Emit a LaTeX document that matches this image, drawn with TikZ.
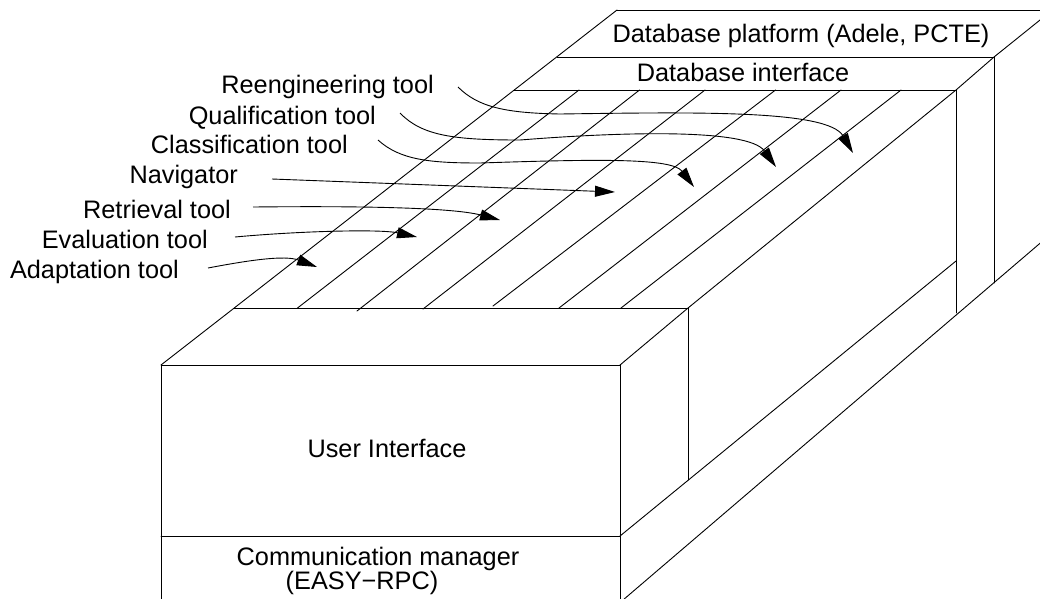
\documentclass[tikz,border=0pt]{standalone}
\usepackage{fontspec}
\setmainfont{Liberation Sans}
\usetikzlibrary{arrows.meta}
\begin{document}
\begin{tikzpicture}[x=1pt,y=-1pt,
  edge/.style={line width=0.9pt, line cap=round},
  lbl/.style={font=\fontsize{25.3}{30}\selectfont, inner sep=0pt},
  toolarrow/.style={line width=0.9pt, -{Triangle[length=20pt,width=11pt]}}]
\useasboundingbox (0,0) rectangle (1040,598);
\clip (0,0) rectangle (1040,598);

% corners
\coordinate (FL) at (161,365);
\coordinate (FR) at (620,365);
\coordinate (BL) at (234,308);
\coordinate (BR) at (688,308);
\coordinate (LT) at (617,10);
\coordinate (CMl) at (161,536);
\coordinate (CMr) at (620,536);
\coordinate (TBr) at (956,90);
\coordinate (DIr) at (994,57);

% front box (User Interface / Communication manager)
\draw[edge] (161,602) -- (FL) -- (FR) -- (620,602);
\draw[edge] (CMl) -- (CMr);
\draw[edge] (BL) -- (BR);
\draw[edge] (BR) -- (688,480);

% long top edges
\draw[edge] (FL) -- (LT);
\draw[edge] (FR) -- (BR) -- (TBr) -- (DIr) -- (1045,16);

% side edges
\draw[edge] (CMr) -- (TBr |- 0,261);
\draw[edge] (623,600) -- (1045,239);
\draw[edge] (TBr) -- (956,313);
\draw[edge] (DIr) -- (994,283);

% back edges of layers
\draw[edge] (514,90) -- (TBr);
\draw[edge] (557,57) -- (DIr);
\draw[edge] (LT) -- (1045,10);

% tool stripes
\draw[edge] (297.5,308) -- (579,90);
\draw[edge] (357,311) -- (639.5,90);
\draw[edge] (423,309) -- (705,90);
\draw[edge] (493,306) -- (775.5,90);
\draw[edge] (559,308) -- (841,90);
\draw[edge] (621,308) -- (901,90);

% texts
\node[lbl, anchor=base] (dbp) at (801,42) {Database platform (Adele, PCTE)};
\node[lbl, anchor=base] (dbi) at (743,81) {Database interface};
\node[lbl, anchor=base] (ui) at (387,457) {User Interface};
\node[lbl, anchor=base] (cm) at (378,565) {Communication manager};
\node[lbl, anchor=base] (rpc) at (362,589) {(EASY−RPC)};

\node[lbl, anchor=base east] (re) at (434,93) {Reengineering tool};
\node[lbl, anchor=base east] (qu) at (376,124) {Qualification tool};
\node[lbl, anchor=base east] (cl) at (348,153) {Classification tool};
\node[lbl, anchor=base east] (na) at (238,183) {Navigator};
\node[lbl, anchor=base east] (rt) at (231,218) {Retrieval tool};
\node[lbl, anchor=base east] (ev) at (208,248) {Evaluation tool};
\node[lbl, anchor=base east] (ad) at (179,278) {Adaptation tool};

% arrow ends
\coordinate (reS) at (458,87);  \coordinate (reE) at (853,153);
\coordinate (quS) at (400,113); \coordinate (quE) at (776,167);
\coordinate (clS) at (378,140); \coordinate (clE) at (694,187);
\coordinate (naS) at (272,179); \coordinate (naE) at (615,192);
\coordinate (rtS) at (253,207); \coordinate (rtE) at (500,220);
\coordinate (evS) at (235,237); \coordinate (evE) at (417,237);
\coordinate (adS) at (208,268); \coordinate (adE) at (317,267);

\draw[toolarrow] (reS) .. controls (478,107) and (505,113) .. (560,114)
  .. controls (700,112) and (828,110) .. (reE);
\draw[toolarrow] (quS) .. controls (422,136) and (455,140) .. (520,140)
  .. controls (620,132) and (748,128) .. (quE);
\draw[toolarrow] (clS) .. controls (400,160) and (430,163) .. (480,163)
  .. controls (600,159) and (672,158) .. (clE);
\draw[toolarrow] (naS) -- (naE);
\draw[toolarrow] (rtS) .. controls (350,206) and (450,207) .. (rtE);
\draw[toolarrow] (evS) .. controls (300,231) and (380,229) .. (evE);
\draw[toolarrow] (adS) .. controls (250,260) and (285,255) .. (adE);
\end{tikzpicture}
\end{document}
